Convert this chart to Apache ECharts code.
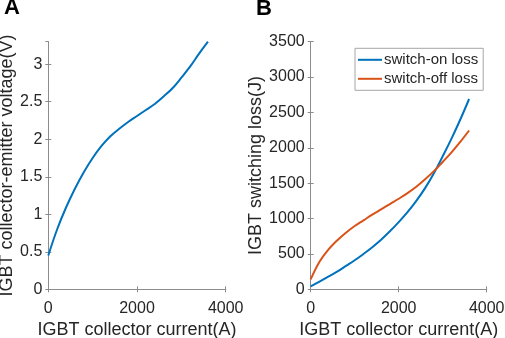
<!DOCTYPE html>
<html>
<head>
<meta charset="utf-8">
<script src="https://cdn.jsdelivr.net/npm/echarts@6/dist/echarts.min.js"></script>
<style>
  html, body { margin: 0; padding: 0; background: #fff; }
  #chart { width: 505px; height: 338px; }
</style>
</head>
<body>
<div id="chart"></div>
<script>
// panel A: on-state voltage vs collector current
var currentA = [0, 200, 400, 600, 800, 1000, 1200, 1400, 1600, 1800, 2000,
  2200, 2400, 2600, 2800, 3000, 3200, 3400, 3600];
var voltageA = [0.45, 0.80, 1.09, 1.34, 1.56, 1.75, 1.91, 2.04, 2.14, 2.23, 2.31,
  2.39, 2.47, 2.57, 2.68, 2.82, 2.97, 3.14, 3.30];

// panel B: switching losses vs collector current
var currentB = currentA;
var onLossB = [40, 110, 180, 250, 330, 410, 500, 595, 700, 820, 950,
  1090, 1250, 1430, 1640, 1880, 2130, 2400, 2690];
var offLossB = [140, 390, 560, 690, 800, 895, 975, 1055, 1130, 1205, 1280,
  1360, 1450, 1555, 1670, 1800, 1935, 2085, 2245];

var FONT = "'Liberation Sans', Arial, sans-serif";
var TXT = '#262626';
var BOX = '#8c8c8c';
var BLUE = '#0072BD';
var ORANGE = '#D95319';

function pairs(xs, ys) {
  return xs.map(function (x, i) { return [x, ys[i]]; });
}

function plain(v) { return String(v); }

function mainAxis(extra) {
  var ax = {
    type: 'value',
    axisLine: { show: true, lineStyle: { color: BOX, width: 1 } },
    axisTick: { show: true, inside: true, length: 3, lineStyle: { color: BOX } },
    axisLabel: { color: TXT, fontSize: 16, fontFamily: FONT, formatter: plain, margin: 11 },
    splitLine: { show: false },
    nameTextStyle: { color: TXT, fontSize: 18, fontFamily: FONT },
    nameLocation: 'middle'
  };
  for (var k in extra) ax[k] = extra[k];
  return ax;
}

function mirrorAxis(extra) {
  var ax = {
    type: 'value',
    axisLine: { show: true, lineStyle: { color: BOX, width: 1 } },
    axisTick: { show: true, inside: true, length: 3, lineStyle: { color: BOX } },
    axisLabel: { show: false },
    splitLine: { show: false }
  };
  for (var k in extra) ax[k] = extra[k];
  return ax;
}

var xA = { min: 0, max: 4000, interval: 2000 };
var yA = { min: 0, max: 3.3, interval: 0.5 };
var xB = { min: 0, max: 4000, interval: 2000 };
var yB = { min: 0, max: 3500, interval: 500 };

var option = {
  backgroundColor: '#fff',
  animation: false,
  title: [
    { text: 'A', left: 4, top: -3, padding: 0,
      textStyle: { fontSize: 22, fontWeight: 'bold', color: '#000', fontFamily: FONT } },
    { text: 'B', left: 256, top: -2, padding: 0,
      textStyle: { fontSize: 22, fontWeight: 'bold', color: '#000', fontFamily: FONT } }
  ],
  grid: [
    { left: 48.3, top: 41.7, right: 279.3, bottom: 48.7, outerBoundsMode: 'none', containLabel: false },
    { left: 310.7, top: 41.7, right: 18.3, bottom: 48.7, outerBoundsMode: 'none', containLabel: false }
  ],
  legend: {
    left: 355, top: 48.3,
    orient: 'vertical',
    data: ['switch-on loss', 'switch-off loss'],
    icon: 'rect',
    itemWidth: 24, itemHeight: 2, itemGap: 4,
    padding: [4, 5, 4, 3],
    borderColor: '#a6a6a6', borderWidth: 1,
    backgroundColor: '#fff',
    textStyle: { color: TXT, fontSize: 15, fontFamily: FONT, padding: [0, 0, 0, -3] }
  },
  xAxis: [
    mainAxis(Object.assign({ gridIndex: 0, position: 'bottom', name: 'IGBT collector current(A)', nameGap: 32 }, xA)),
    mirrorAxis(Object.assign({ gridIndex: 0, position: 'top' }, xA)),
    mainAxis(Object.assign({ gridIndex: 1, position: 'bottom', name: 'IGBT collector current(A)', nameGap: 32 }, xB)),
    mirrorAxis(Object.assign({ gridIndex: 1, position: 'top' }, xB))
  ],
  yAxis: [
    mainAxis(Object.assign({ gridIndex: 0, position: 'left', name: 'IGBT collector-emitter voltage(V)', nameGap: 31,
      axisLabel: { color: TXT, fontSize: 16, fontFamily: FONT, margin: 6, showMaxLabel: false, formatter: plain } }, yA)),
    mirrorAxis(Object.assign({ gridIndex: 0, position: 'right' }, yA)),
    mainAxis(Object.assign({ gridIndex: 1, position: 'left', name: 'IGBT switching loss(J)', nameGap: 45,
      axisLabel: { color: TXT, fontSize: 16, fontFamily: FONT, margin: 6, formatter: plain } }, yB)),
    mirrorAxis(Object.assign({ gridIndex: 1, position: 'right' }, yB))
  ],
  series: [
    { type: 'line', xAxisIndex: 0, yAxisIndex: 0, data: pairs(currentA, voltageA),
      symbol: 'none', smooth: 0.4,
      lineStyle: { color: BLUE, width: 2 }, itemStyle: { color: BLUE } },
    { name: 'switch-on loss', type: 'line', xAxisIndex: 2, yAxisIndex: 2, data: pairs(currentB, onLossB),
      symbol: 'none', smooth: 0.4,
      lineStyle: { color: BLUE, width: 2 }, itemStyle: { color: BLUE } },
    { name: 'switch-off loss', type: 'line', xAxisIndex: 2, yAxisIndex: 2, data: pairs(currentB, offLossB),
      symbol: 'none', smooth: 0.4,
      lineStyle: { color: ORANGE, width: 2 }, itemStyle: { color: ORANGE } }
  ]
};

var chart = echarts.init(document.getElementById('chart'), null, { renderer: 'canvas' });
chart.setOption(option);
</script>
</body>
</html>
